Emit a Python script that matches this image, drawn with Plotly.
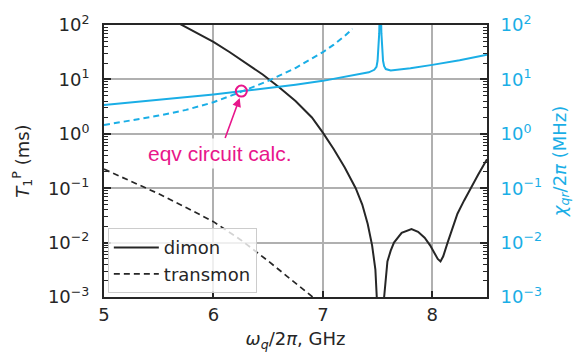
import plotly.graph_objects as go

# ---- data ----
freq_dimon_T1 = [5.60, 5.714, 5.85, 6.00, 6.15, 6.30, 6.45, 6.60, 6.75, 6.90, 7.00, 7.10, 7.20, 7.30,
                 7.36, 7.41, 7.45, 7.48, 7.50, 7.515, 7.525, 7.535, 7.55, 7.56, 7.59, 7.62, 7.65,
                 7.72, 7.81, 7.87, 7.93, 7.98, 8.02, 8.05, 8.075, 8.10, 8.14, 8.18, 8.23, 8.29,
                 8.35, 8.42, 8.50]
T1_dimon = [132, 100, 72, 49, 31.6, 20, 12.3, 7.2, 4.0, 2.0, 1.05, 0.52, 0.24, 0.10,
            0.050, 0.022, 0.0089, 0.0032, 0.00079, 0.000126, 0.00001, 0.00003, 0.0005, 0.001,
            0.0045, 0.0071, 0.010, 0.0151, 0.0178, 0.0158, 0.0123, 0.0089, 0.0063, 0.0050,
            0.0045, 0.0056, 0.010, 0.0178, 0.034, 0.059, 0.10, 0.178, 0.34]

freq_transmon_T1 = [5.00, 5.25, 5.50, 5.75, 6.00, 6.25, 6.50, 6.75, 6.90, 6.95]
T1_transmon = [0.224, 0.133, 0.079, 0.044, 0.0243, 0.0112, 0.0046, 0.0018, 0.00105, 0.00085]

freq_dimon_chi = [5.00, 5.50, 6.00, 6.25, 6.50, 6.75, 7.00, 7.20, 7.35, 7.42, 7.47, 7.49, 7.50,
                  7.51, 7.515, 7.52, 7.525, 7.53, 7.535, 7.54, 7.55, 7.56, 7.575, 7.62, 7.70,
                  7.80, 8.00, 8.25, 8.50]
chi_dimon = [3.4, 4.2, 5.3, 6.05, 6.9, 8.0, 9.4, 11.0, 12.5, 13.5, 15.0, 17, 22,
             38, 70, 200, 600, 200, 70, 38, 22, 17.5, 15.5, 14.6, 15.0,
             16.0, 18.5, 22.5, 28.5]

freq_transmon_chi = [5.00, 5.25, 5.50, 5.75, 6.00, 6.25, 6.50, 6.75, 7.00, 7.10, 7.20, 7.27]
chi_transmon = [1.45, 1.76, 2.16, 2.75, 3.8, 5.9, 9.4, 16.2, 31.6, 43.6, 63, 85]

eqv_point_freq = [6.255]
eqv_point_chi = [6.1]

ytick_vals = [1e-3, 1e-2, 1e-1, 1e0, 1e1, 1e2]
ytick_text = ["10<sup>\u22123</sup>", "10<sup>\u22122</sup>", "10<sup>\u22121</sup>",
              "10<sup>0</sup>", "10<sup>1</sup>", "10<sup>2</sup>"]
yminor_vals = [m * d for d in [1e-3, 1e-2, 1e-1, 1e0, 1e1] for m in range(2, 10)]
xtick_vals = [5, 6, 7, 8]

CYAN = "#1aaee6"
MAGENTA = "#e8168b"
DARK = "#262626"
FONT = "DejaVu Sans"

fig = go.Figure()

fig.add_trace(go.Scatter(x=freq_dimon_chi, y=chi_dimon, mode="lines", yaxis="y2",
                         line=dict(color=CYAN, width=2), showlegend=False))
fig.add_trace(go.Scatter(x=freq_transmon_chi, y=chi_transmon, mode="lines", yaxis="y2",
                         line=dict(color=CYAN, width=2, dash="6px,4px"), showlegend=False))
fig.add_trace(go.Scatter(x=freq_dimon_T1, y=T1_dimon, mode="lines", name="dimon",
                         line=dict(color=DARK, width=2)))
fig.add_trace(go.Scatter(x=freq_transmon_T1, y=T1_transmon, mode="lines", name="transmon",
                         line=dict(color=DARK, width=1.7, dash="6px,4px")))
fig.add_trace(go.Scatter(x=eqv_point_freq, y=eqv_point_chi, mode="markers", yaxis="y2",
                         marker=dict(symbol="circle-open", size=11, color=MAGENTA,
                                     line=dict(width=2, color=MAGENTA)),
                         showlegend=False))
# invisible carriers for the minor-tick overlay axes
for ax_name in ["y3", "y4"]:
    fig.add_trace(go.Scatter(x=[5], y=[1], yaxis=ax_name, mode="markers",
                             marker=dict(opacity=0), showlegend=False, hoverinfo="skip"))

fig.add_annotation(x=6.24, y=0.657, xref="x", yref="y2", ax=-20, ay=55,
                   text="eqv circuit calc.", showarrow=True, arrowhead=2, arrowsize=1.1,
                   arrowwidth=1.6, arrowcolor=MAGENTA, standoff=0,
                   font=dict(family="Liberation Sans", size=21, color=MAGENTA),
                   bgcolor="rgba(255,255,255,0.85)", borderpad=3)

axis_common = dict(showline=True, linecolor=DARK, linewidth=2, ticks="inside",
                   tickcolor=DARK, tickwidth=1.5, tickfont=dict(family=FONT, size=18, color=DARK))

minor_axis = dict(type="log", range=[-3, 2], overlaying="y", tickmode="array",
                  tickvals=yminor_vals, ticks="inside", ticklen=4, tickwidth=1,
                  tickcolor=DARK, showticklabels=False, showgrid=False, zeroline=False,
                  showline=False)

fig.update_layout(
    width=579, height=364,
    margin=dict(l=104, r=86, t=13, b=67),
    paper_bgcolor="white", plot_bgcolor="white",
    font=dict(family=FONT, size=18, color=DARK),
    xaxis=dict(range=[5, 8.5], tickmode="array", tickvals=xtick_vals, ticklen=6,
               showgrid=True, gridcolor="#b0b0b0", gridwidth=1.5, mirror=True, zeroline=False,
               title=dict(text="<i>\u03c9<sub>q</sub></i>/2<i>\u03c0</i>, GHz",
                          font=dict(family=FONT, size=18, color=DARK), standoff=9),
               **axis_common),
    yaxis=dict(type="log", range=[-3, 2], tickmode="array", tickvals=ytick_vals,
               ticktext=ytick_text, ticklen=7, ticklabelstandoff=9,
               showgrid=True, gridcolor="#b0b0b0", gridwidth=1.5, zeroline=False,
               title=dict(text="<i>T</i><sub>1</sub><sup>P</sup> (ms)",
                          font=dict(family=FONT, size=18, color=DARK), standoff=14),
               **axis_common),
    yaxis2=dict(type="log", range=[-3, 2], overlaying="y", side="right", tickmode="array",
                tickvals=ytick_vals, ticktext=ytick_text, ticklen=7, ticklabelstandoff=8,
                showgrid=False, zeroline=False,
                showline=True, linecolor=DARK, linewidth=2, ticks="inside",
                tickcolor=DARK, tickwidth=1.5,
                tickfont=dict(family=FONT, size=18, color=CYAN),
                title=dict(text="<i>\u03c7<sub>qr</sub></i>/2<i>\u03c0</i> (MHz)",
                           font=dict(family=FONT, size=18, color=CYAN), standoff=12)),
    yaxis3=dict(side="left", **minor_axis),
    yaxis4=dict(side="right", **minor_axis),
    legend=dict(x=0.01, y=0.014, xanchor="left", yanchor="bottom", itemwidth=45,
                bgcolor="rgba(255,255,255,0.8)", bordercolor="#cccccc", borderwidth=1,
                font=dict(family=FONT, size=18, color=DARK)),
)

fig.write_html("out.html")
